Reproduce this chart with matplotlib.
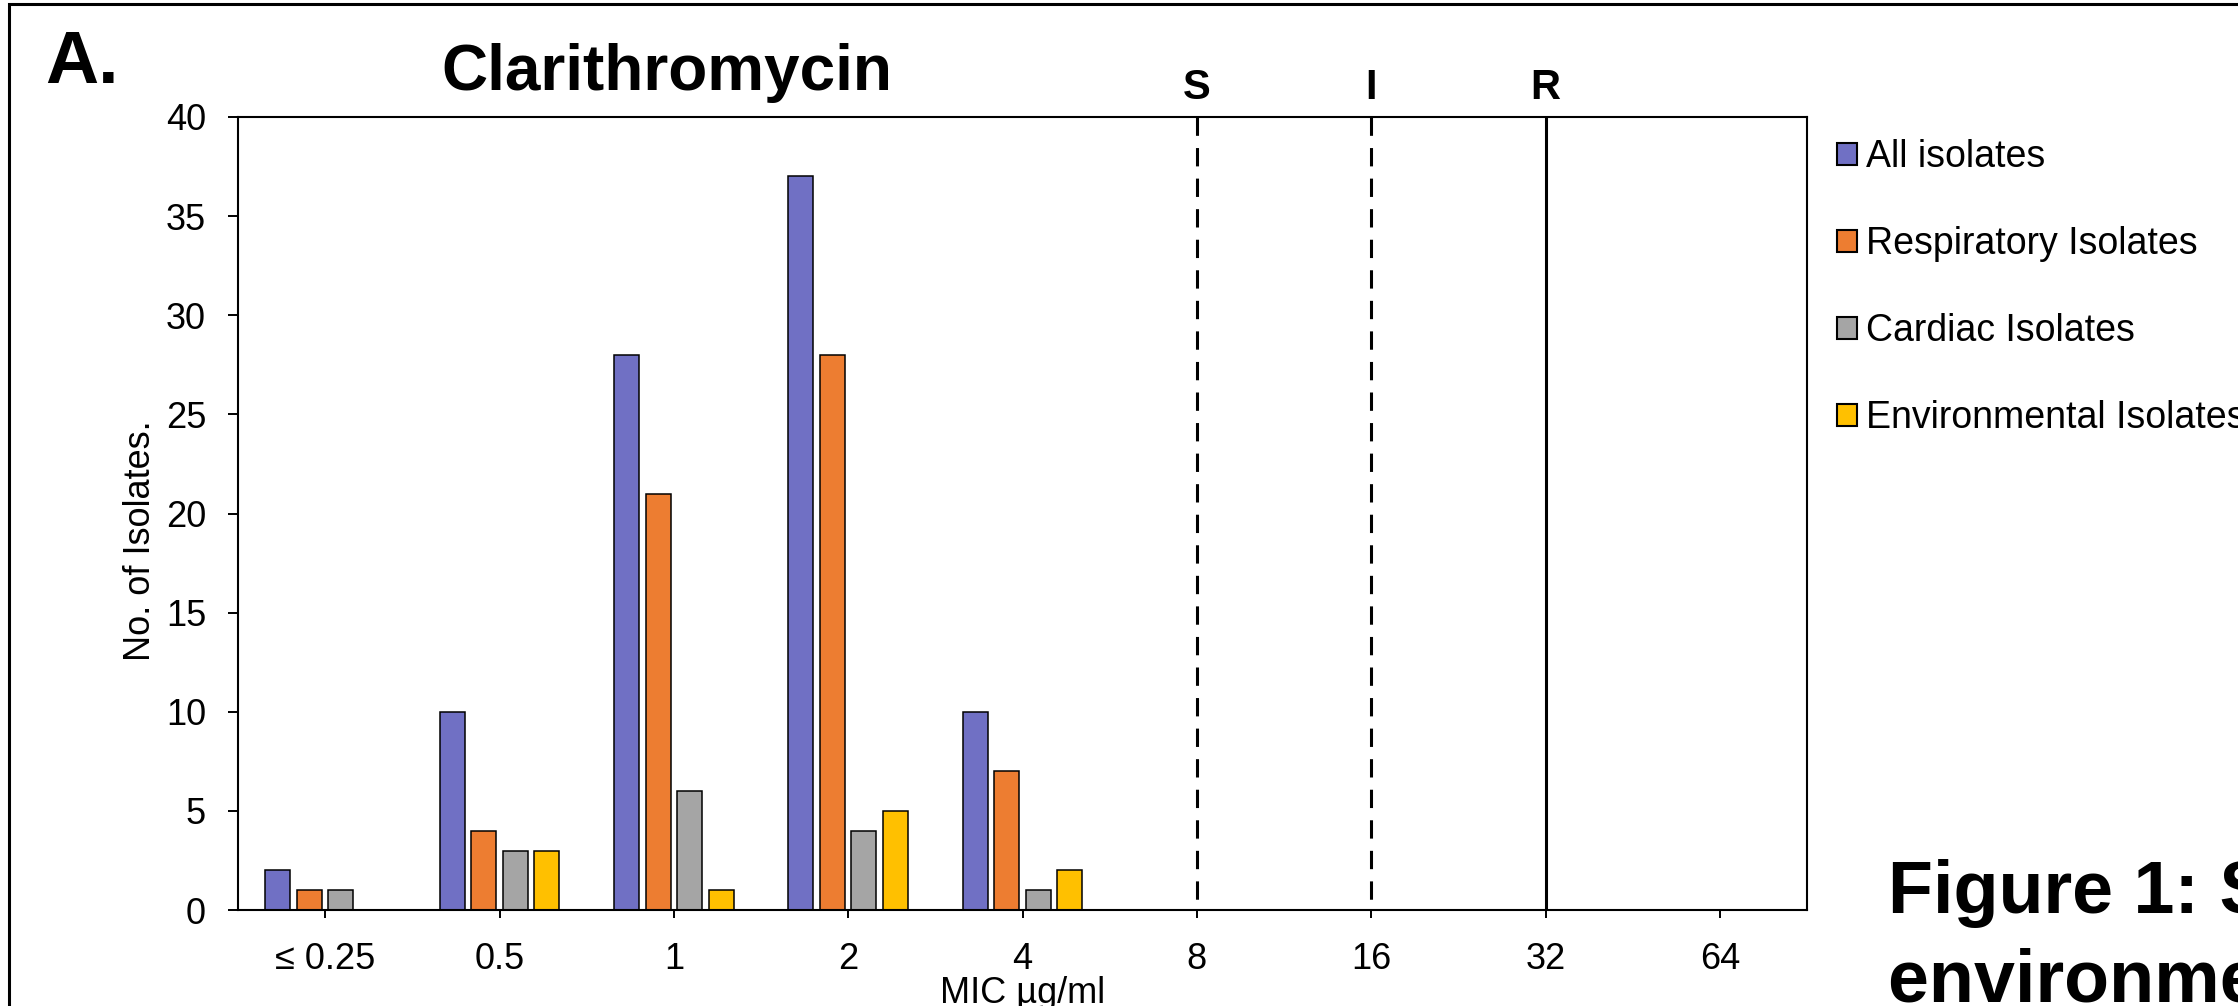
import matplotlib.pyplot as plt
from matplotlib.patches import Rectangle, Patch

plt.rcParams['font.family'] = ['Liberation Sans', 'DejaVu Sans']

# MIC categories (ug/ml)
mic_labels = ['≤ 0.25', '0.5', '1', '2', '4', '8', '16', '32', '64']

# number of isolates per MIC
all_isolates = [2, 10, 28, 37, 10, 0, 0, 0, 0]
resp_isolates = [1, 4, 21, 28, 7, 0, 0, 0, 0]
cardiac_isolates = [1, 3, 6, 4, 1, 0, 0, 0, 0]
env_isolates = [0, 3, 1, 5, 2, 0, 0, 0, 0]

series_names = ['All isolates', 'Respiratory Isolates', 'Cardiac Isolates', 'Environmental Isolates']
series_colors = ['#7070C4', '#ED7D31', '#A5A5A5', '#FFC000']

# breakpoints S / I / R
bp_names = ['S', 'I', 'R']
bp_mic = ['8', '16', '32']
bp_styles = [(0, (6, 4)), (0, (6, 4)), '-']

W, H = 2238, 1006
fig = plt.figure(figsize=(W / 100, H / 100), dpi=100)
ax = fig.add_axes([238 / W, 1 - 910 / H, (1807 - 238) / W, (910 - 117) / H])

x = list(range(len(mic_labels)))
step = 0.1814
width = 0.1435
data = [all_isolates, resp_isolates, cardiac_isolates, env_isolates]
for i, (vals, col) in enumerate(zip(data, series_colors)):
    off = (i - 1.5) * step
    ax.bar([v + off for v in x], vals, width, color=col, edgecolor='black', linewidth=1.1)

for name, mic, ls in zip(bp_names, bp_mic, bp_styles):
    xi = mic_labels.index(mic)
    ax.plot([xi, xi], [40, 0], color='black', lw=2.2, ls=ls, zorder=3)
    ax.text(xi, 1.023, name, transform=ax.get_xaxis_transform(), ha='center', va='baseline',
            fontsize=30, fontweight='bold', clip_on=False)

ax.set_xlim(-0.5, len(mic_labels) - 0.5)
ax.set_ylim(0, 40)
ax.set_yticks(range(0, 41, 5))
ax.set_xticks(x)
ax.set_xticklabels(mic_labels)
ax.tick_params(axis='y', labelsize=26, length=7, width=1.4, pad=16)
ax.tick_params(axis='x', labelsize=26, length=6, width=1.4, pad=17)
for s in ax.spines.values():
    s.set_linewidth(1.5)

fig.text(141 / W, 1 - 541 / H, 'No. of Isolates.', rotation=90, ha='center', va='center', fontsize=26)
fig.text(1023 / W, 1 - 1003 / H, 'MIC µg/ml', ha='center', va='baseline', fontsize=26)

handles = [Patch(facecolor=c, edgecolor='black', linewidth=1.5) for c in series_colors]
fig.legend(handles, series_names, loc='upper left', bbox_to_anchor=(1837 / W, 1 - 139 / H),
           frameon=False, fontsize=27, borderpad=0, borderaxespad=0, handlelength=0.54,
           handleheight=0.54, handletextpad=0.24, labelspacing=1.36)

fig.text(45 / W, 1 - 83 / H, 'A.', fontsize=53, fontweight='bold', va='baseline')
fig.text(667 / W, 1 - 90 / H, 'Clarithromycin', fontsize=46, fontweight='bold', ha='center', va='baseline')
fig.text(1888 / W, 1 - 913 / H, 'Figure 1: Susceptibility of', fontsize=53, fontweight='bold', va='baseline')
fig.text(1888 / W, 1 - 1002 / H, 'environmental isolates', fontsize=53, fontweight='bold', va='baseline')

fig.patches.append(Rectangle((9 / W, -0.5), 2, 0.5 + 1 - 4 / H, transform=fig.transFigure,
                             fill=False, edgecolor='black', linewidth=2.2))

fig.savefig('out.png', dpi=100)
